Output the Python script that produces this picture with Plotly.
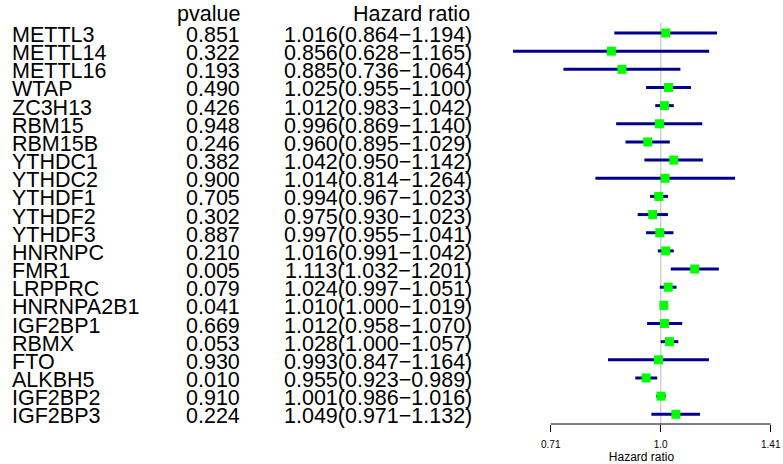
import plotly.graph_objects as go

genes = ["METTL3", "METTL14", "METTL16", "WTAP", "ZC3H13", "RBM15", "RBM15B",
         "YTHDC1", "YTHDC2", "YTHDF1", "YTHDF2", "YTHDF3", "HNRNPC", "FMR1",
         "LRPPRC", "HNRNPA2B1", "IGF2BP1", "RBMX", "FTO", "ALKBH5", "IGF2BP2", "IGF2BP3"]
pvalues = ["0.851", "0.322", "0.193", "0.490", "0.426", "0.948", "0.246",
           "0.382", "0.900", "0.705", "0.302", "0.887", "0.210", "0.005",
           "0.079", "0.041", "0.669", "0.053", "0.930", "0.010", "0.910", "0.224"]
hr = [1.016, 0.856, 0.885, 1.025, 1.012, 0.996, 0.960, 1.042, 1.014, 0.994, 0.975,
      0.997, 1.016, 1.113, 1.024, 1.010, 1.012, 1.028, 0.993, 0.955, 1.001, 1.049]
hr_low = [0.864, 0.628, 0.736, 0.955, 0.983, 0.869, 0.895, 0.950, 0.814, 0.967, 0.930,
          0.955, 0.991, 1.032, 0.997, 1.000, 0.958, 1.000, 0.847, 0.923, 0.986, 0.971]
hr_high = [1.194, 1.165, 1.064, 1.100, 1.042, 1.140, 1.029, 1.142, 1.264, 1.023, 1.023,
           1.041, 1.042, 1.201, 1.051, 1.019, 1.070, 1.057, 1.164, 0.989, 1.016, 1.132]
tick_vals = [0.7071, 1.0, 1.4142]
tick_labels = ["0.71", "1.0", "1.41"]

W, H = 783, 464
FONT = "Liberation Sans, Arial, sans-serif"
rows = list(range(len(genes)))

fig = go.Figure()

# reference line at HR = 1
fig.add_shape(type="line", xref="x", yref="y", x0=1, x1=1, y0=-0.55, y1=21.534,
              line=dict(color="#d0d0d0", width=1.5), layer="below")

# confidence intervals
cx, cy = [], []
for i in rows:
    cx += [hr_low[i], hr_high[i], None]
    cy += [i, i, None]
fig.add_trace(go.Scatter(x=cx, y=cy, mode="lines",
                         line=dict(color="#00008B", width=3), hoverinfo="skip",
                         showlegend=False))
# point estimates
fig.add_trace(go.Scatter(x=hr, y=rows, mode="markers",
                         marker=dict(symbol="square", size=9, color="#00FF00",
                                     line=dict(width=0)),
                         showlegend=False))

# axis line spanning the tick range
fig.add_shape(type="line", xref="x", yref="paper", x0=tick_vals[0], x1=tick_vals[-1],
              y0=1 - 424 / H, y1=1 - 424 / H, line=dict(color="black", width=1))

# text columns
tf = dict(family=FONT, size=21.5, color="black")
ysh = -2
for i in rows:
    fig.add_annotation(x=10 / W, y=i, xref="paper", yref="y", text=genes[i],
                       xanchor="left", yanchor="middle", showarrow=False, font=tf, yshift=ysh)
    fig.add_annotation(x=242 / W, y=i, xref="paper", yref="y", text=pvalues[i],
                       xanchor="right", yanchor="middle", showarrow=False, font=tf, yshift=ysh)
    fig.add_annotation(x=474 / W, y=i, xref="paper", yref="y",
                       text=f"{hr[i]:.3f}({hr_low[i]:.3f}\u2212{hr_high[i]:.3f})",
                       xanchor="right", yanchor="middle", showarrow=False, font=tf, yshift=ysh)
fig.add_annotation(x=242 / W, y=-1.15, xref="paper", yref="y", text="pvalue",
                   xanchor="right", yanchor="middle", showarrow=False, font=tf, yshift=ysh)
fig.add_annotation(x=472 / W, y=-1.15, xref="paper", yref="y", text="Hazard ratio",
                   xanchor="right", yanchor="middle", showarrow=False, font=tf, yshift=ysh)

fig.update_layout(
    width=W, height=H, autosize=False,
    margin=dict(l=0, r=0, t=0, b=0),
    paper_bgcolor="white", plot_bgcolor="white",
    xaxis=dict(type="log", domain=[500 / W, 1], range=[-0.2199, 0.1673],
               tickvals=tick_vals, ticktext=tick_labels, ticks="outside", ticklen=7,
               tickcolor="black", tickwidth=1, showline=False, showgrid=False,
               zeroline=False, tickfont=dict(family=FONT, size=10, color="black"),
               ticklabelstandoff=4,
               title=dict(text="Hazard ratio", font=dict(family=FONT, size=12, color="black"),
                          standoff=4)),
    yaxis=dict(domain=[1 - 424 / H, 1], range=[21.534, -1.8175], visible=False,
               showgrid=False, zeroline=False),
    showlegend=False,
)

fig.write_html("out.html", config={"displayModeBar": False},
               post_script="document.body.style.margin='0px';")
